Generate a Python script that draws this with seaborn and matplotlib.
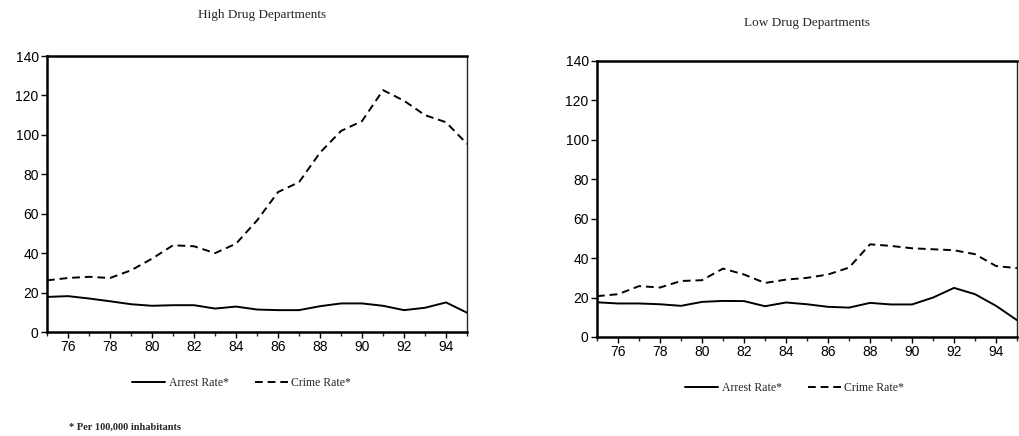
import pandas as pd
import matplotlib.pyplot as plt
import seaborn as sns
from matplotlib.ticker import MultipleLocator

# years 1975-1995 (two digit labels)
years = [75, 76, 77, 78, 79, 80, 81, 82, 83, 84, 85, 86, 87, 88, 89, 90, 91, 92, 93, 94, 95]

# High drug departments
high_arrest = [17.8, 18.2, 17.0, 15.6, 14.1, 13.3, 13.6, 13.6, 11.9, 12.9, 11.4,
               11.1, 11.1, 13.1, 14.5, 14.5, 13.3, 11.1, 12.3, 15.0, 9.8]
high_crime = [26.2, 27.4, 28.0, 27.4, 31.3, 37.2, 44.0, 43.5, 40.0, 44.8, 56.6,
              71.0, 76.0, 91.0, 102.0, 107.0, 122.7, 117.3, 110.0, 106.4, 95.4]

# Low drug departments
low_arrest = [17.6, 17.0, 17.0, 16.6, 15.8, 17.8, 18.3, 18.2, 15.6, 17.5, 16.6,
              15.3, 14.9, 17.3, 16.5, 16.5, 20.0, 24.9, 21.7, 15.8, 8.5]
low_crime = [20.7, 21.7, 25.8, 25.1, 28.4, 28.8, 34.7, 31.7, 27.4, 29.1, 30.0,
             31.7, 35.2, 47.0, 46.2, 45.0, 44.5, 44.0, 42.0, 36.0, 34.9]

titles = ["High Drug Departments", "Low Drug Departments"]
y_ticks = [0, 20, 40, 60, 80, 100, 120, 140]

sns.set_style("ticks")
plt.rcParams['font.family'] = ['Liberation Sans', 'DejaVu Sans']

fig = plt.figure(figsize=(10.2, 4.36), dpi=100)
ax_left = fig.add_axes([0.0461, 0.2385, 0.4118, 0.633])
ax_right = fig.add_axes([0.5853, 0.2271, 0.4118, 0.633])

panels = [
    (ax_left, high_arrest, high_crime, (0.237, 0.121), (0.257, 0.966)),
    (ax_right, low_arrest, low_crime, (0.779, 0.110), (0.791, 0.947)),
]

for (ax, arrest, crime, leg_pos, title_pos), title in zip(panels, titles):
    df = pd.DataFrame({"year": years, "arrest": arrest, "crime": crime})
    sns.lineplot(data=df, x="year", y="arrest", ax=ax, color="black",
                 linewidth=1.4, label="Arrest Rate*")
    sns.lineplot(data=df, x="year", y="crime", ax=ax, color="black",
                 linewidth=1.4, label="Crime Rate*")
    ax.lines[1].set_dashes((4, 2.5))

    ax.set_xlim(75, 95)
    ax.set_ylim(0, 140)
    ax.set_yticks(y_ticks)
    ax.xaxis.set_minor_locator(MultipleLocator(1))
    ax.set_xticks([76, 78, 80, 82, 84, 86, 88, 90, 92, 94])
    ax.tick_params(axis="both", which="major", direction="out", length=4,
                   width=1, labelsize=10, colors="black", pad=2)
    ax.tick_params(axis="x", which="minor", direction="out", length=3, width=1)
    ax.set_xlabel("")
    ax.set_ylabel("")
    for side in ["left", "top", "bottom"]:
        ax.spines[side].set_linewidth(1.8)
        ax.spines[side].set_color("black")
    ax.spines["right"].set_linewidth(1.0)
    ax.spines["right"].set_visible(True)
    ax.spines["top"].set_visible(True)

    ax.legend(loc="center", bbox_to_anchor=leg_pos, bbox_transform=fig.transFigure,
              ncol=2, frameon=False, handlelength=2.8, handletextpad=0.3,
              columnspacing=2.2, prop={"family": "Liberation Serif", "size": 8.5})
    ax.get_legend().get_lines()[1].set_dashes((4, 2.5))

    fig.text(title_pos[0], title_pos[1], title, ha="center", va="center",
             family="Liberation Serif", fontsize=9.5)

fig.text(0.0676, 0.021, "* Per 100,000 inhabitants", ha="left", va="center",
         family="Liberation Serif", fontweight="bold", fontsize=7.5)

fig.savefig("out.png", dpi=100)
